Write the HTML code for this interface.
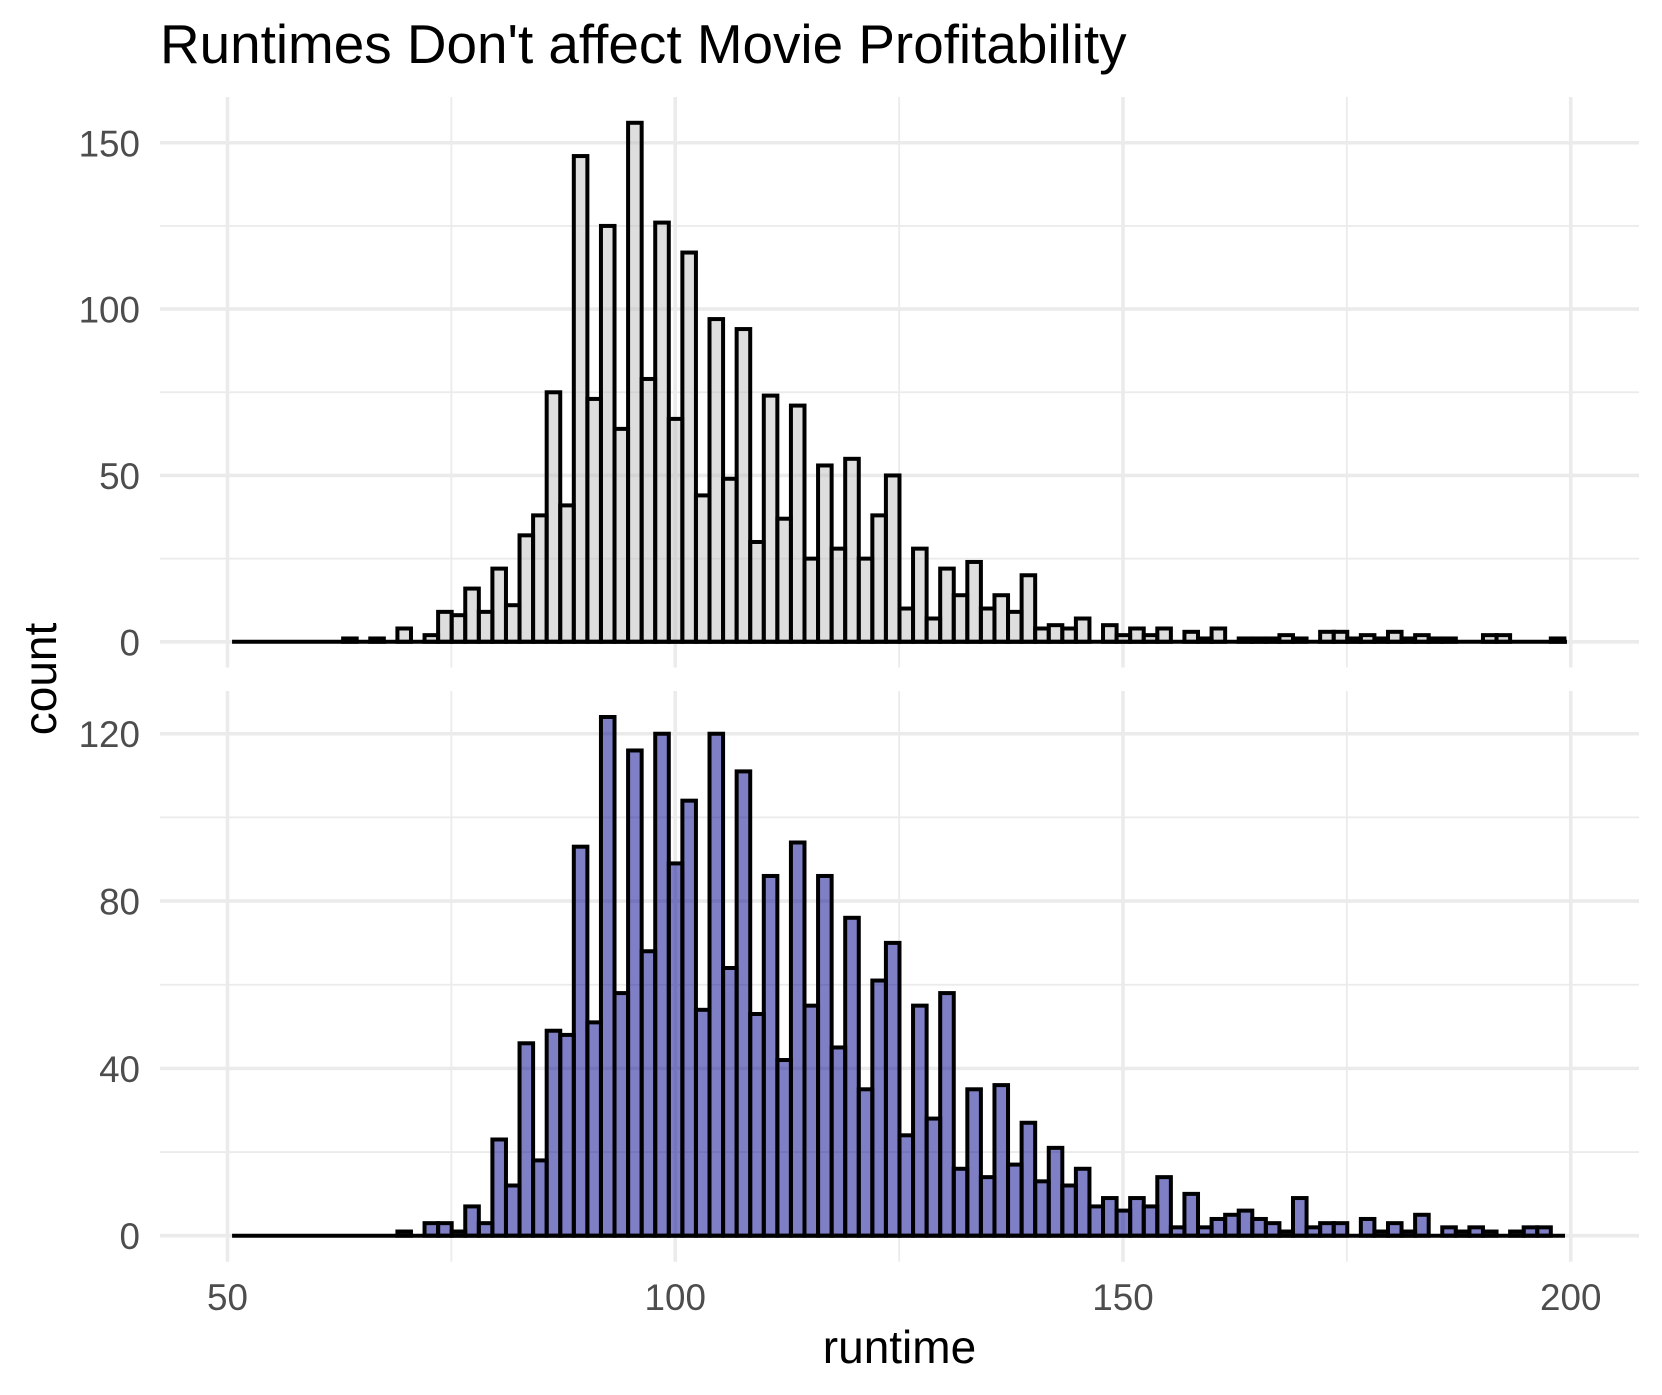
<!DOCTYPE html>
<html lang="en">
<head>
<meta charset="utf-8">
<title>Runtimes Don't affect Movie Profitability</title>
<style>
html,body{margin:0;padding:0;background:#fff;}
svg{display:block;}
text{font-family:"Liberation Sans",Arial,sans-serif;}
</style>
</head>
<body>
<svg id="chart" xmlns="http://www.w3.org/2000/svg" width="1662" height="1395" viewBox="0 0 1662 1395">
  <rect x="0" y="0" width="1662" height="1395" fill="#ffffff"/>
  <g id="panel-top"></g>
  <g id="panel-bottom"></g>
  <g id="x-axis"></g>
  <text x="160" y="63" font-size="54.85" fill="#000000">Runtimes Don't affect Movie Profitability</text>
  <text x="899.5" y="1363" font-size="46" text-anchor="middle" fill="#000000">runtime</text>
  <text x="0" y="0" transform="translate(56 679) rotate(-90)" font-size="46" text-anchor="middle" fill="#000000">count</text>
</svg>
<script>
const binStart = 50.79;
const binWidth = 1.5153;
const topCounts = [0,0,0,0,0,0,0,0,1,0,1,0,4,0,2,9,8,16,9,22,11,32,38,75,41,146,73,125,64,156,79,126,67,117,44,97,49,94,30,74,37,71,25,53,28,55,25,38,50,10,28,7,22,14,24,10,14,9,20,4,5,4,7,0,5,2,4,2,4,0,3,1,4,0,1,1,1,2,1,0,3,3,1,2,1,3,1,2,1,1,0,0,2,2,0,0,0,1];
const bottomCounts = [0,0,0,0,0,0,0,0,0,0,0,0,1,0,3,3,1,7,3,23,12,46,18,49,48,93,51,124,58,116,68,120,89,104,54,120,64,111,53,86,42,94,55,86,45,76,35,61,70,24,55,28,58,16,35,14,36,17,27,13,21,12,16,7,9,6,9,7,14,2,10,2,4,5,6,4,3,1,9,2,3,3,0,4,1,3,1,5,0,2,1,2,1,0,1,2,2,0];
const xTickValues = [50,100,150,200];
const xMinorValues = [75,125,175];
const topMajorTicks = [0,50,100,150];
const topMinorTicks = [25,75,125];
const bottomMajorTicks = [0,40,80,120];
const bottomMinorTicks = [20,60,100];
const topBaselineRange = [50.51,199.58];
const bottomBaselineRange = [50.51,199.36];

const SVG_NS = 'http://www.w3.org/2000/svg';
const xScale = v => 227.5 + (v - 50) * 8.955;
const panelLeft = 160;
const panelRight = 1639;

function makeY(zeroPixel, pixelsPerUnit) {
  return v => zeroPixel - v * pixelsPerUnit;
}

function addLine(parent, x1, y1, x2, y2, stroke, width) {
  const el = document.createElementNS(SVG_NS, 'line');
  el.setAttribute('x1', x1);
  el.setAttribute('y1', y1);
  el.setAttribute('x2', x2);
  el.setAttribute('y2', y2);
  el.setAttribute('stroke', stroke);
  el.setAttribute('stroke-width', width);
  parent.appendChild(el);
  return el;
}

function drawPanel(parent, panelName, top, bottom, yScale, majors, minors, counts, fill, baselineRange) {
  xMinorValues.forEach(v => {
    const el = addLine(parent, xScale(v), top, xScale(v), bottom, '#EBEBEB', 1.8);
    
    
  });
  minors.forEach(v => {
    const el = addLine(parent, panelLeft, yScale(v), panelRight, yScale(v), '#EBEBEB', 1.8);
    
    
  });
  xTickValues.forEach(v => {
    const el = addLine(parent, xScale(v), top, xScale(v), bottom, '#EBEBEB', 3.6);
    
    
  });
  majors.forEach(v => {
    const el = addLine(parent, panelLeft, yScale(v), panelRight, yScale(v), '#EBEBEB', 3.6);
    
    
  });
  majors.forEach(v => {
    const label = document.createElementNS(SVG_NS, 'text');
    label.setAttribute('x', 140);
    label.setAttribute('y', yScale(v) + 13.5);
    label.setAttribute('font-size', '36.8');
    label.setAttribute('text-anchor', 'end');
    label.setAttribute('fill', '#4D4D4D');
    label.textContent = String(v);
    
    
    parent.appendChild(label);
  });
  counts.forEach((count, i) => {
    if (count <= 0) return;
    const left = xScale(binStart + i * binWidth);
    const right = xScale(binStart + (i + 1) * binWidth);
    const bar = document.createElementNS(SVG_NS, 'rect');
    bar.setAttribute('x', left);
    bar.setAttribute('y', yScale(count));
    bar.setAttribute('width', right - left);
    bar.setAttribute('height', yScale(0) - yScale(count));
    bar.setAttribute('fill', fill);
    bar.setAttribute('fill-opacity', '0.5');
    bar.setAttribute('stroke', '#000000');
    bar.setAttribute('stroke-width', '4');
    
    
    parent.appendChild(bar);
  });
  const baseline = addLine(parent, xScale(baselineRange[0]), yScale(0), xScale(baselineRange[1]), yScale(0), '#000000', 4);
  
  
}

drawPanel(document.getElementById('panel-top'), 'top', 97, 667.5, makeY(641.8, 3.327), topMajorTicks, topMinorTicks, topCounts, '#BEBEBE', topBaselineRange);
drawPanel(document.getElementById('panel-bottom'), 'bottom', 691, 1261.7, makeY(1235.7, 4.183), bottomMajorTicks, bottomMinorTicks, bottomCounts, '#00008B', bottomBaselineRange);

const xAxisGroup = document.getElementById('x-axis');
xTickValues.forEach(v => {
  const label = document.createElementNS(SVG_NS, 'text');
  label.setAttribute('x', xScale(v));
  label.setAttribute('y', 1310);
  label.setAttribute('font-size', '36.8');
  label.setAttribute('text-anchor', 'middle');
  label.setAttribute('fill', '#4D4D4D');
  label.textContent = String(v);
  
  
  xAxisGroup.appendChild(label);
});
</script>
</body>
</html>
